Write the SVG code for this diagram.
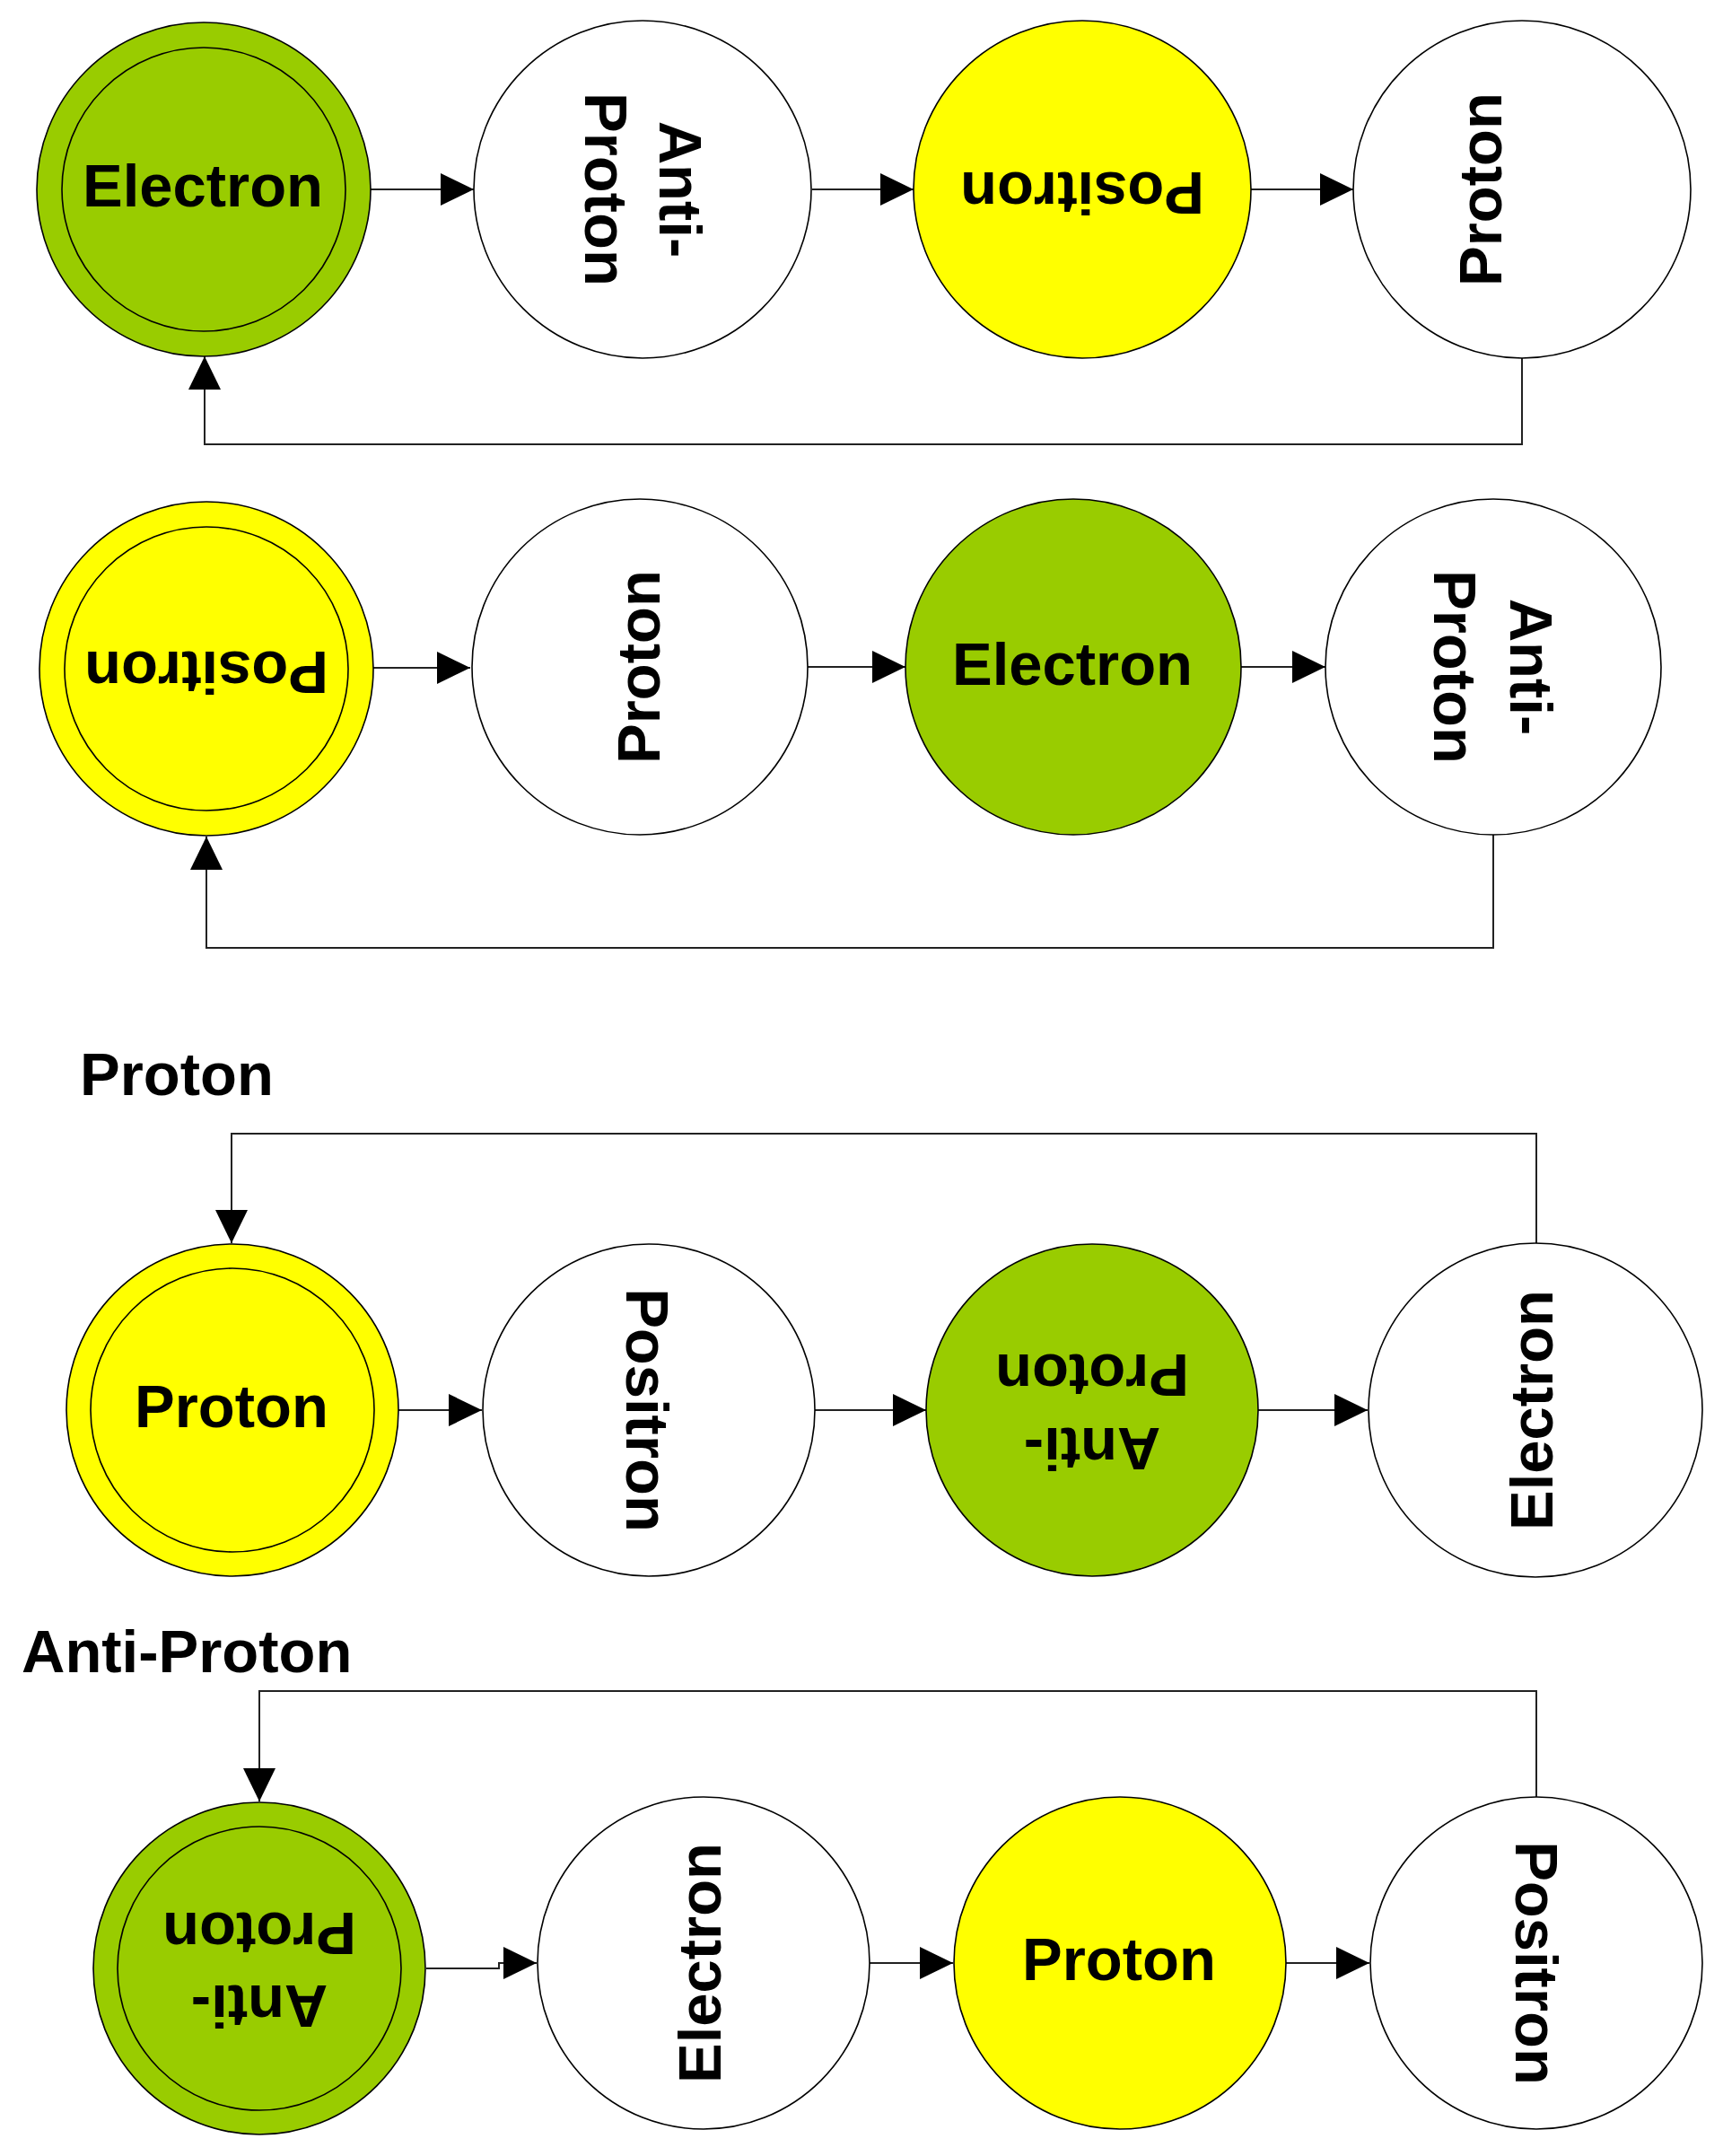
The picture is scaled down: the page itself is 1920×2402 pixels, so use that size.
<svg xmlns="http://www.w3.org/2000/svg" width="1920" height="2402" viewBox="0 0 1920 2402">
<style>
.bg{fill:#ffffff}
.n{stroke:#000;stroke-width:1.6}
.g{fill:#99CC00}
.y{fill:#FFFF00}
.w{fill:#ffffff}
.in{fill:none;stroke:#000;stroke-width:1.6}
.t{font-family:"Liberation Sans",Arial,sans-serif;font-weight:bold;font-size:67px;fill:#000;text-anchor:middle}
.h{font-family:"Liberation Sans",Arial,sans-serif;font-weight:bold;font-size:67px;fill:#000}
.c{fill:none;stroke:#222;stroke-width:2}
</style>
<defs>
<marker id="ah" markerUnits="userSpaceOnUse" markerWidth="38" markerHeight="36" refX="37" refY="18" orient="auto">
<path d="M0,0 L37,18 L0,36 z" fill="#000"/>
</marker>
</defs>
<rect class="bg" x="0" y="0" width="1920" height="2402"/>

<g id="connectors">
<!-- row 1 -->
<path class="c" d="M413,211 H528" marker-end="url(#ah)"/>
<path class="c" d="M905,211 H1018" marker-end="url(#ah)"/>
<path class="c" d="M1394,211 H1508" marker-end="url(#ah)"/>
<path class="c" d="M1696,396 V495 H228 V397" marker-end="url(#ah)"/>
<!-- row 2 -->
<path class="c" d="M416,744 H524" marker-end="url(#ah)"/>
<path class="c" d="M900,743 H1009" marker-end="url(#ah)"/>
<path class="c" d="M1383,743 H1477" marker-end="url(#ah)"/>
<path class="c" d="M1664,930 V1056 H230 V932" marker-end="url(#ah)"/>
<!-- row 3 -->
<path class="c" d="M444,1571 H537" marker-end="url(#ah)"/>
<path class="c" d="M908,1571 H1032" marker-end="url(#ah)"/>
<path class="c" d="M1402,1571 H1524" marker-end="url(#ah)"/>
<path class="c" d="M1712,1385 V1263 H258 V1385" marker-end="url(#ah)"/>
<!-- row 4 -->
<path class="c" d="M475,2193 H556 V2187 H598" marker-end="url(#ah)"/>
<path class="c" d="M969,2187 H1062" marker-end="url(#ah)"/>
<path class="c" d="M1433,2187 H1526" marker-end="url(#ah)"/>
<path class="c" d="M1712,2002 V1884 H289 V2007" marker-end="url(#ah)"/>
</g>

<g id="label-proton">
<text class="h" x="89" y="1220">Proton</text>
</g>
<g id="label-antiproton">
<text class="h" x="24" y="1863">Anti-Proton</text>
</g>

<!-- Row 1 -->
<g id="r1-electron">
<circle class="n g" cx="227" cy="211" r="186"/>
<circle class="in" cx="227" cy="211" r="158"/>
<text class="t" x="226" y="230">Electron</text>
</g>
<g id="r1-antiproton">
<circle class="n w" cx="716" cy="211" r="188"/>
<text class="t" transform="rotate(90 716 211)"><tspan x="716" y="192">Anti-</tspan><tspan x="716" y="275">Proton</tspan></text>
</g>
<g id="r1-positron">
<circle class="n y" cx="1206" cy="211" r="188"/>
<text class="t" x="1206" y="230" transform="rotate(180 1206 211)">Positron</text>
</g>
<g id="r1-proton">
<circle class="n w" cx="1696" cy="211" r="188"/>
<text class="t" x="1696" y="188" transform="rotate(-90 1696 211)">Proton</text>
</g>

<!-- Row 2 -->
<g id="r2-positron">
<circle class="n y" cx="230" cy="745" r="186"/>
<circle class="in" cx="230" cy="745" r="158"/>
<text class="t" x="230" y="764" transform="rotate(180 230 745)">Positron</text>
</g>
<g id="r2-proton">
<circle class="n w" cx="713" cy="743" r="187"/>
<text class="t" x="713" y="765" transform="rotate(-90 713 743)">Proton</text>
</g>
<g id="r2-electron">
<circle class="n g" cx="1196" cy="743" r="187"/>
<text class="t" x="1195" y="763">Electron</text>
</g>
<g id="r2-antiproton">
<circle class="n w" cx="1664" cy="743" r="187"/>
<text class="t" transform="rotate(90 1664 743)"><tspan x="1664" y="724">Anti-</tspan><tspan x="1664" y="809">Proton</tspan></text>
</g>

<!-- Row 3 -->
<g id="r3-proton">
<circle class="n y" cx="259" cy="1571" r="185"/>
<circle class="in" cx="259" cy="1571" r="158"/>
<text class="t" x="258" y="1590">Proton</text>
</g>
<g id="r3-positron">
<circle class="n w" cx="723" cy="1571" r="185"/>
<text class="t" x="723" y="1596" transform="rotate(90 723 1571)">Positron</text>
</g>
<g id="r3-antiproton">
<circle class="n g" cx="1217" cy="1571" r="185"/>
<text class="t" transform="rotate(180 1217 1571)"><tspan x="1217" y="1551">Anti-</tspan><tspan x="1217" y="1633">Proton</tspan></text>
</g>
<g id="r3-electron">
<circle class="n w" cx="1711" cy="1571" r="186"/>
<text class="t" x="1711" y="1590" transform="rotate(-90 1711 1571)">Electron</text>
</g>

<!-- Row 4 -->
<g id="r4-antiproton">
<circle class="n g" cx="289" cy="2193" r="185"/>
<circle class="in" cx="289" cy="2193" r="158"/>
<text class="t" transform="rotate(180 289 2193)"><tspan x="289" y="2174">Anti-</tspan><tspan x="289" y="2255">Proton</tspan></text>
</g>
<g id="r4-electron">
<circle class="n w" cx="784" cy="2187" r="185"/>
<text class="t" x="784" y="2206" transform="rotate(-90 784 2187)">Electron</text>
</g>
<g id="r4-proton">
<circle class="n y" cx="1248" cy="2187" r="185"/>
<text class="t" x="1247" y="2206">Proton</text>
</g>
<g id="r4-positron">
<circle class="n w" cx="1712" cy="2187" r="185"/>
<text class="t" x="1712" y="2210" transform="rotate(90 1712 2187)">Positron</text>
</g>
</svg>
